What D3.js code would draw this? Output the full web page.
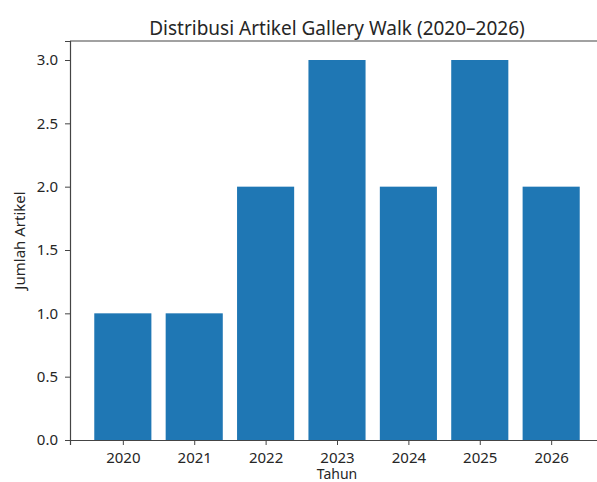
<!DOCTYPE html>
<html>
<head>
<meta charset="utf-8">
<script src="https://cdn.jsdelivr.net/npm/d3@7"></script>
<style>
  body { margin: 0; background: #fff; }
  svg { display: block; font-family: "Noto Sans", "DejaVu Sans", sans-serif; }
</style>
</head>
<body>
<div id="chart"></div>
<script>
// Data
const years = ["2020", "2021", "2022", "2023", "2024", "2025", "2026"];
const counts = [1, 1, 2, 3, 2, 3, 2];
const yTicks = [0, 0.5, 1, 1.5, 2, 2.5, 3];

const width = 597;
const height = 482;
const margin = { top: 41, right: -7, bottom: 42, left: 70 };
const barWidth = 0.8;

const svg = d3.select("#chart").append("svg")
	.attr("width", width)
	.attr("height", height);

// matplotlib style: bars at integer positions, 5% padding
const pad = (years.length - 1 + barWidth) * 0.05;
const x = d3.scaleLinear()
	.domain([-barWidth / 2 - pad, years.length - 1 + barWidth / 2 + pad])
	.range([margin.left, width - margin.right]);

const yMax = d3.max(counts) * 1.05;
const y = d3.scaleLinear()
	.domain([0, yMax])
	.range([height - margin.bottom, margin.top]);

// Bars
svg.append("g").selectAll("rect")
	.data(counts)
	.enter().append("rect")
	.attr("x", (d, i) => x(i - barWidth / 2))
	.attr("width", (d, i) => x(i + barWidth / 2) - x(i - barWidth / 2))
	.attr("y", d => y(d))
	.attr("height", d => y(0) - y(d))
	.attr("fill", "#1f77b4");

// Axes
const xAxis = d3.axisBottom(x)
	.tickValues(d3.range(years.length))
	.tickFormat(i => years[i])
	.tickSize(5)
	.tickPadding(7);

const yAxis = d3.axisLeft(y)
	.tickValues(yTicks)
	.tickFormat(d3.format(".1f"))
	.tickSize(5)
	.tickPadding(7);

const gx = svg.append("g")
	.attr("transform", "translate(0," + (height - margin.bottom) + ")")
	.call(xAxis);

const gy = svg.append("g")
	.attr("transform", "translate(" + margin.left + ",0)")
	.call(yAxis);

[gx, gy].forEach(g => {
	g.select(".domain").attr("stroke", "#444").attr("stroke-width", 1.2);
	g.selectAll(".tick line").attr("stroke", "#444");
	g.selectAll(".tick text")
		.attr("fill", "#262626")
		.style("font-size", "15px")
		.style("font-family", "\"Noto Sans\", sans-serif");
});

// Top spine (right spine falls outside the frame)
svg.append("line")
	.attr("x1", x.range()[0]).attr("x2", x.range()[1])
	.attr("y1", y(yMax)).attr("y2", y(yMax))
	.attr("stroke", "#444").attr("stroke-width", 1.2);

// Labels
svg.append("text")
	.attr("x", (margin.left + width - margin.right) / 2)
	.attr("y", 35)
	.attr("text-anchor", "middle")
	.attr("fill", "#262626")
	.style("font-size", "19px")
	.text("Distribusi Artikel Gallery Walk (2020\u20132026)");

svg.append("text")
	.attr("x", (margin.left + width - margin.right) / 2)
	.attr("y", 479)
	.attr("text-anchor", "middle")
	.attr("fill", "#262626")
	.style("font-size", "14px")
	.text("Tahun");

svg.append("text")
	.attr("transform", "translate(25," + y(yMax / 2) + ") rotate(-90)")
	.attr("text-anchor", "middle")
	.attr("fill", "#262626")
	.style("font-size", "15px")
	.text("Jumlah Artikel");
</script>
</body>
</html>
